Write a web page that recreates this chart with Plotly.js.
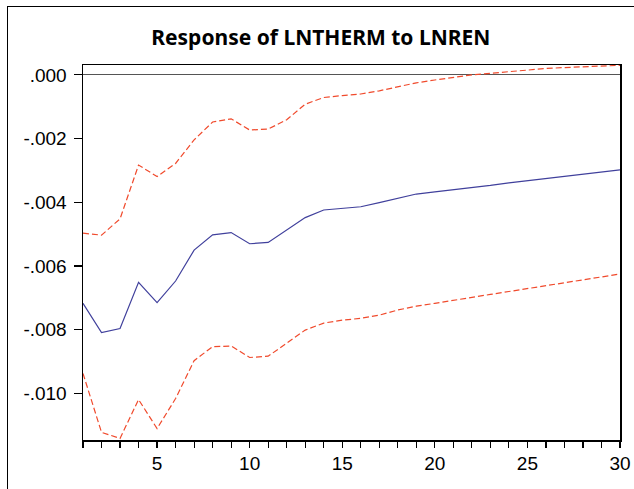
<!DOCTYPE html>
<html>
<head>
<meta charset="utf-8">
<script src="https://cdn.plot.ly/plotly-3.0.1.min.js"></script>
<style>
  html, body { margin: 0; padding: 0; background: #fff; }
  #wrap { position: relative; width: 634px; height: 489px; overflow: hidden; }
  #chart { position: absolute; left: 0; top: 0; width: 634px; height: 489px; }
  #frame { position: absolute; left: 7px; top: 6px; width: 640px; height: 500px;
           border-left: 1.5px solid #000; border-top: 1.5px solid #000; pointer-events: none; }
</style>
</head>
<body>
<div id="wrap"><div id="chart"></div><div id="frame"></div></div>
<script>
const periods = [1,2,3,4,5,6,7,8,9,10,11,12,13,14,15,16,17,18,19,20,21,22,23,24,25,26,27,28,29,30];

const response = [-0.00717,-0.00809,-0.00796,-0.00651,-0.00715,-0.00647,-0.00550,-0.00502,-0.00495,-0.00530,
                  -0.00526,-0.00487,-0.00448,-0.00424,-0.00419,-0.00414,-0.00401,-0.00387,-0.00374,-0.00367,
                  -0.00361,-0.00354,-0.00347,-0.00339,-0.00332,-0.00325,-0.00318,-0.00312,-0.00305,-0.00298];

const upperBand = [-0.00497,-0.00503,-0.00452,-0.00283,-0.00319,-0.00278,-0.00204,-0.00148,-0.00138,-0.00173,
                   -0.00170,-0.00141,-0.00092,-0.00071,-0.00065,-0.00060,-0.00050,-0.00037,-0.00025,-0.00016,
                   -0.00008,0.00000,0.00005,0.00010,0.00016,0.00020,0.00023,0.00026,0.00028,0.00030];

const lowerBand = [-0.00937,-0.01122,-0.01141,-0.01019,-0.01110,-0.01016,-0.00897,-0.00853,-0.00851,-0.00887,
                   -0.00883,-0.00842,-0.00801,-0.00779,-0.00770,-0.00764,-0.00754,-0.00738,-0.00726,-0.00717,
                   -0.00707,-0.00698,-0.00689,-0.00680,-0.00671,-0.00662,-0.00653,-0.00644,-0.00635,-0.00625];

const yTickVals = [0,-0.002,-0.004,-0.006,-0.008,-0.010];
const yTickText = ['.000','-.002','-.004','-.006','-.008','-.010'];

const titleText = 'Response of LNTHERM to LNREN';

const red = '#f04a2c';
const blue = '#40409c';

const traces = [
  {x: periods, y: upperBand, type: 'scatter', mode: 'lines',
   line: {color: red, width: 1.2, dash: '6px,3px'}, hoverinfo: 'skip'},
  {x: periods, y: lowerBand, type: 'scatter', mode: 'lines',
   line: {color: red, width: 1.2, dash: '6px,3px'}, hoverinfo: 'skip'},
  {x: periods, y: response, type: 'scatter', mode: 'lines',
   line: {color: blue, width: 1.2}, hoverinfo: 'skip'}
];

const layout = {
  width: 634, height: 489,
  margin: {l: 83, r: 14, t: 65, b: 49, pad: 0},
  paper_bgcolor: 'rgba(0,0,0,0)', plot_bgcolor: '#fff',
  showlegend: false,
  title: {text: '<b>' + titleText + '</b>', xref: 'container', yref: 'container',
          x: 0.506, xanchor: 'center', y: 0.924, yanchor: 'middle',
          font: {family: 'Noto Sans, DejaVu Sans, sans-serif', size: 21, color: '#000'}},
  xaxis: {range: [1, 30], tick0: 0, dtick: 5, ticks: 'outside', ticklen: 6, tickwidth: 1.2,
          tickcolor: '#000', showgrid: false, zeroline: false,
          showline: true, linecolor: '#000', linewidth: 1.5, mirror: true,
          minor: {dtick: 1, ticks: 'outside', ticklen: 6, tickwidth: 1.2, tickcolor: '#000', showgrid: false},
          tickfont: {family: 'Liberation Sans, Arial, sans-serif', size: 19, color: '#000'}},
  yaxis: {range: [-0.01146, 0.00031], tickvals: yTickVals, ticktext: yTickText,
          ticks: 'outside', ticklen: 8, tickwidth: 1.2, tickcolor: '#000', ticklabelstandoff: 3,
          showgrid: false, zeroline: true, zerolinecolor: '#555', zerolinewidth: 1,
          showline: true, linecolor: '#000', linewidth: 1.5, mirror: true,
          tickfont: {family: 'Liberation Sans, Arial, sans-serif', size: 19, color: '#000'}}
};

Plotly.newPlot('chart', traces, layout, {staticPlot: true, displayModeBar: false});
</script>
</body>
</html>
